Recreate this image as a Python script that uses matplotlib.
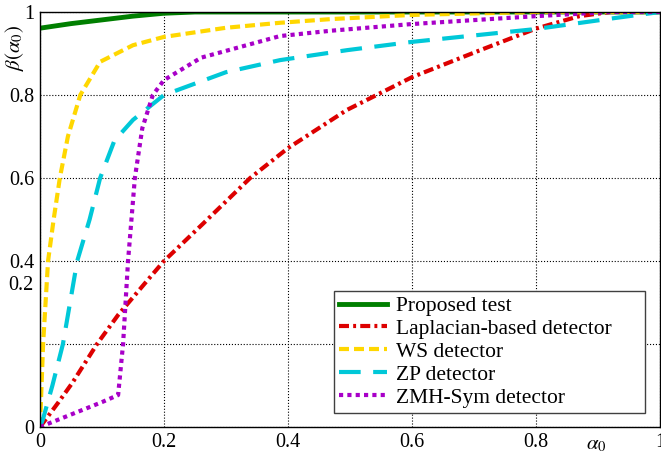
import matplotlib
matplotlib.use("Agg")
import matplotlib.pyplot as plt

plt.rcParams['font.family'] = ['Liberation Serif', 'DejaVu Serif']
plt.rcParams['mathtext.fontset'] = 'stix'

# data
proposed_x = [0, 0.05, 0.1, 0.15, 0.2, 0.25, 0.4, 0.6, 0.8, 1.0]
proposed_y = [0.961, 0.972, 0.981, 0.99, 0.997, 1.0, 1.0, 1.0, 1.0, 1.0]

lap_x = [0, 0.01, 0.03, 0.052, 0.092, 0.126, 0.177, 0.2, 0.263, 0.339, 0.4, 0.495, 0.527,
         0.6, 0.71, 0.8, 0.87, 0.92, 1.0]
lap_y = [0, 0.02, 0.06, 0.106, 0.2, 0.27, 0.36, 0.4, 0.49, 0.6, 0.672, 0.764, 0.788,
         0.843, 0.908, 0.96, 0.99, 1.0, 1.0]

ws_x = [0, 0.002, 0.005, 0.013, 0.022, 0.032, 0.045, 0.065, 0.097, 0.15, 0.2, 0.3, 0.387,
        0.47, 0.6, 0.8, 1.0]
ws_y = [0, 0.08, 0.2, 0.4, 0.5, 0.6, 0.7, 0.8, 0.88, 0.92, 0.94, 0.962, 0.974,
        0.983, 0.993, 1.0, 1.0]

zp_x = [0, 0.005, 0.02, 0.037, 0.06, 0.08, 0.097, 0.12, 0.15, 0.2, 0.3, 0.387, 0.495,
        0.6, 0.8, 0.925, 1.0]
zp_y = [0, 0.02, 0.1, 0.2, 0.4, 0.5, 0.6, 0.69, 0.74, 0.8, 0.855, 0.884, 0.908,
        0.928, 0.959, 0.985, 1.0]

zmh_x = [0, 0.05, 0.1, 0.126, 0.134, 0.142, 0.153, 0.165, 0.182, 0.2, 0.26, 0.387, 0.47,
         0.6, 0.8, 0.92, 1.0]
zmh_y = [0, 0.03, 0.06, 0.077, 0.2, 0.4, 0.6, 0.72, 0.8, 0.836, 0.89, 0.942, 0.955,
         0.971, 0.99, 1.0, 1.0]

fig = plt.figure(figsize=(6.61, 4.54), dpi=100)
ax = fig.add_axes([40 / 661, 27 / 454, 620 / 661, 415 / 454])

ax.plot(proposed_x, proposed_y, color='#007f00', lw=3.5, label='Proposed test')
ax.plot(lap_x, lap_y, color='#dd0000', lw=3, dashes=(2.4, 1, 0.7, 1), label='Laplacian-based detector')
ax.plot(ws_x, ws_y, color='#ffd700', lw=3, dashes=(2.4, 1.2), label='WS detector')
ax.plot(zp_x, zp_y, color='#00c8d8', lw=3, dashes=(5.2, 3), label='ZP detector')
ax.plot(zmh_x, zmh_y, color='#a800c8', lw=3, dashes=(1, 1), label='ZMH-Sym detector')

ax.set_xlim(0, 1)
ax.set_ylim(0, 1)
ax.set_xticks([0, 0.2, 0.4, 0.6, 0.8, 1])
ax.set_xticklabels(['0', '0.2', '0.4', '0.6', '0.8', '1'])
ax.set_yticks([0, 0.2, 0.4, 0.6, 0.8, 1])
ax.set_yticklabels(['0', '', '0.4', '0.6', '0.8', '1'])
ax.tick_params(labelsize=14.5, length=0, pad=4)
ax.grid(True, color='black', linestyle=':', linewidth=0.8)
for s in ax.spines.values():
    s.set_linewidth(1.0)

# misplaced 0.2 label as in the original
ax.text(-0.011, 0.342, '0.2', ha='right', va='center', fontsize=14.5, clip_on=False)

ax.text(0.897, -0.02, r'$\alpha_0$', ha='center', va='top', fontsize=15)
fig.text(14 / 661, 1 - 48 / 454, r'$\beta(\alpha_0)$', rotation=90, ha='center', va='center', fontsize=15)

leg = ax.legend(loc='lower left', bbox_to_anchor=(0.474, 0.034, 0.502, 0.29), mode='expand',
                borderaxespad=0, fontsize=15.5, fancybox=False, framealpha=1, edgecolor='#404040',
                handlelength=2.2, borderpad=0.25, labelspacing=0.13, handletextpad=0.45)
leg.get_frame().set_linewidth(1.0)

fig.savefig('out.png', dpi=100)
